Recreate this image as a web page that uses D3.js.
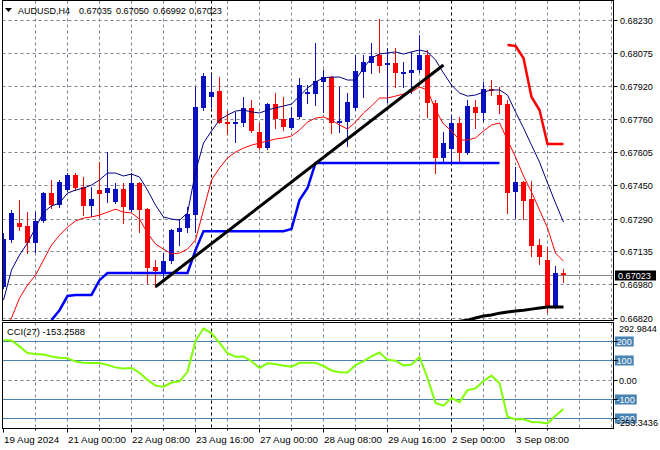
<!DOCTYPE html>
<html><head><meta charset="utf-8">
<script src="https://cdn.jsdelivr.net/npm/d3@7"></script>
<style>body{margin:0;background:#fff}svg{display:block}text{font-family:"Liberation Sans",Arial,sans-serif}</style>
</head><body><svg id="c" width="660" height="450"></svg>
<script>
// ---- data (AUDUSD H4) ----
const openP  = [0.66968,0.67189,0.67271,0.67255,0.67176,0.67279,0.67411,0.67354,0.67425,0.67496,0.67440,0.67350,0.67425,0.67411,0.67370,0.67430,0.67331,0.67459,0.67337,0.67061,0.67034,0.67089,0.67228,0.67246,0.67307,0.67814,0.67866,0.67895,0.67749,0.67738,0.67744,0.67814,0.67701,0.67623,0.67832,0.67760,0.67718,0.67770,0.67885,0.67880,0.67938,0.67959,0.67744,0.67749,0.67812,0.67985,0.68025,0.68064,0.68016,0.68025,0.67973,0.67981,0.67993,0.68064,0.67836,0.67575,0.67618,0.67741,0.67602,0.67817,0.67791,0.67902,0.67875,0.67832,0.67415,0.67465,0.67383,0.67165,0.67094,0.66873,0.67035];
const highP  = [0.67223,0.67331,0.67378,0.67321,0.67321,0.67416,0.67473,0.67473,0.67506,0.67506,0.67487,0.67440,0.67558,0.67605,0.67459,0.67459,0.67506,0.67463,0.67340,0.67094,0.67127,0.67241,0.67288,0.67345,0.67913,0.67981,0.67973,0.67962,0.67801,0.67796,0.67867,0.67851,0.67744,0.67837,0.67883,0.67867,0.67820,0.67954,0.67922,0.68120,0.67993,0.67965,0.67914,0.67883,0.68064,0.68064,0.68121,0.68235,0.68098,0.68098,0.68031,0.68080,0.68159,0.68088,0.67851,0.67701,0.67780,0.67770,0.67851,0.67851,0.67938,0.67946,0.67914,0.67851,0.67533,0.67468,0.67468,0.67194,0.67154,0.67066,0.67050];
const lowP   = [0.66960,0.67179,0.67236,0.67127,0.67132,0.67274,0.67340,0.67345,0.67421,0.67425,0.67307,0.67302,0.67298,0.67369,0.67364,0.67269,0.67326,0.67227,0.66987,0.66968,0.67014,0.67080,0.67165,0.67227,0.67227,0.67804,0.67820,0.67741,0.67690,0.67654,0.67728,0.67701,0.67619,0.67619,0.67718,0.67709,0.67712,0.67766,0.67836,0.67828,0.67796,0.67697,0.67700,0.67634,0.67804,0.67867,0.67979,0.67985,0.67843,0.67914,0.67914,0.67883,0.67984,0.67770,0.67507,0.67552,0.67553,0.67559,0.67598,0.67718,0.67753,0.67875,0.67791,0.67315,0.67291,0.67287,0.67115,0.67074,0.66849,0.66868,0.66992];
const closeP = [0.67194,0.67317,0.67252,0.67175,0.67279,0.67411,0.67354,0.67463,0.67496,0.67435,0.67351,0.67383,0.67407,0.67435,0.67430,0.67346,0.67459,0.67331,0.67058,0.67043,0.67089,0.67236,0.67246,0.67312,0.67818,0.67965,0.67889,0.67744,0.67738,0.67749,0.67814,0.67706,0.67623,0.67832,0.67760,0.67722,0.67765,0.67922,0.67889,0.67943,0.67959,0.67744,0.67753,0.67843,0.67989,0.68033,0.68061,0.68012,0.68025,0.67978,0.67985,0.67993,0.68064,0.67836,0.67575,0.67647,0.67741,0.67602,0.67823,0.67791,0.67902,0.67894,0.67828,0.67413,0.67465,0.67375,0.67162,0.67110,0.66873,0.67031,0.67023];

const upperLine = [0.66905,0.67047,0.67118,0.67175,0.67246,0.67321,0.67350,0.67364,0.67411,0.67425,0.67435,0.67449,0.67473,0.67506,0.67506,0.67492,0.67501,0.67487,0.67425,0.67354,0.67298,0.67288,0.67283,0.67317,0.67511,0.67648,0.67705,0.67757,0.67780,0.67799,0.67804,0.67795,0.67790,0.67804,0.67814,0.67823,0.67832,0.67870,0.67908,0.67937,0.67956,0.67960,0.67960,0.67946,0.67946,0.68003,0.68050,0.68069,0.68074,0.68079,0.68069,0.68079,0.68088,0.68079,0.68041,0.67979,0.67922,0.67885,0.67870,0.67875,0.67889,0.67899,0.67899,0.67875,0.67795,0.67719,0.67638,0.67558,0.67459,0.67364,0.67274];
const lowerLine = [0.66739,0.66820,0.66914,0.66976,0.67023,0.67094,0.67165,0.67212,0.67250,0.67279,0.67293,0.67298,0.67307,0.67321,0.67335,0.67321,0.67317,0.67288,0.67222,0.67170,0.67146,0.67123,0.67127,0.67146,0.67189,0.67331,0.67473,0.67530,0.67577,0.67605,0.67624,0.67638,0.67648,0.67657,0.67667,0.67672,0.67681,0.67709,0.67747,0.67766,0.67771,0.67757,0.67733,0.67714,0.67747,0.67790,0.67823,0.67861,0.67861,0.67870,0.67880,0.67889,0.67913,0.67899,0.67804,0.67738,0.67705,0.67662,0.67662,0.67672,0.67705,0.67733,0.67743,0.67662,0.67582,0.67492,0.67416,0.67331,0.67246,0.67127,0.67089];
const stopBlue = [null,null,null,null,null,null,0.66810,0.66857,0.66924,0.66929,0.66929,0.66929,0.66999,0.67033,0.67033,0.67033,0.67033,0.67033,0.67033,0.67033,0.67033,0.67033,0.67033,0.67033,0.67141,0.67231,0.67231,0.67231,0.67231,0.67231,0.67231,0.67231,0.67231,0.67231,0.67231,0.67231,0.67241,0.67378,0.67435,0.67553,0.67553,0.67553,0.67553,0.67553,0.67553,0.67553,0.67553,0.67553,0.67553,0.67553,0.67553,0.67553,0.67553,0.67553,0.67553,0.67553,0.67553,0.67553,0.67553,0.67553,0.67553,0.67553,0.67553,null,null,null,null,null,null,null,null];
const stopRed = [null,null,null,null,null,null,null,null,null,null,null,null,null,null,null,null,null,null,null,null,null,null,null,null,null,null,null,null,null,null,null,null,null,null,null,null,null,null,null,null,null,null,null,null,null,null,null,null,null,null,null,null,null,null,null,null,null,null,null,null,null,null,null,0.68112,0.68107,0.68050,0.67866,0.67804,0.67643,0.67643,0.67643];
const floorBlack = [null,null,null,null,null,null,null,null,null,null,null,null,null,null,null,null,null,null,null,null,null,null,null,null,null,null,null,null,null,null,null,null,null,null,null,null,null,null,null,null,null,null,null,null,null,null,null,null,null,null,null,null,null,null,null,null,null,0.66805,0.66810,0.66820,0.66829,0.66834,0.66843,0.66848,0.66853,0.66857,0.66862,0.66867,0.66872,0.66872,0.66872];
const trendIdx = [19, 55];
const trendPrice = [0.66968, 0.68017];
const cciValues = [205,203,172,138,133,130,120,113,111,93,87,86,86,76,63,57,60,35,-2,-32,-37,-16,-10,40,200,266,240,190,137,118,120,95,60,84,80,72,67,87,87,87,70,47,38,36,75,95,120,140,102,98,73,78,117,8,-122,-136,-96,-118,-55,-46,-8,20,-20,-193,-207,-207,-221,-222,-228,-188,-153.2588];
const priceTicks = [0.68230,0.68075,0.67920,0.67760,0.67605,0.67450,0.67290,0.67135,0.66980,0.66820];
const priceTickLabels = ["0.68230","0.68075","0.67920","0.67760","0.67605","0.67450","0.67290","0.67135","0.66980","0.66820"];
const timeTickIdx = [0,8,16,24,32,40,48,56,64];
const timeTickLabels = ["19 Aug 2024","21 Aug 00:00","22 Aug 08:00","23 Aug 16:00","27 Aug 00:00","28 Aug 08:00","29 Aug 16:00","2 Sep 00:00","3 Sep 08:00"];
const weekSepIdx = [26, 56];
const cciLevels = [200, 100, -100, -200];
const lastPrice = 0.67023;
const titleParts = ["AUDUSD,H4", "0.67035", "0.67050", "0.66992", "0.67023"];
const cciTitle = "CCI(27) -153.2588";
const cciMax = 292.9844, cciMin = -253.3436;

// ---- layout ----
const L = 2.5, R = 613.5, mT = 0.5, mB = 320.5, cT = 322.5, cB = 428.5;
const svg = d3.select("#c");
const x = d3.scaleLinear().domain([0, 70]).range([3.5, 563.5]);
const y = d3.scaleLinear().domain([0.66820, 0.68230]).range([318, 20]);
const yc = d3.scaleLinear().domain([-200, 200]).range([418, 341]);
const crisp = v => Math.round(v) + 0.5;

// font size so that sample string has the given pixel width
function fitSize(sample, width) {
  const t = svg.append("text").attr("font-size", 10).text(sample);
  const w = t.node().getComputedTextLength();
  t.remove();
  return 10 * width / w;
}
const fsPrice = fitSize("0.68230", 33);
const fsTime = fitSize("21 Aug 00:00", 58);
const fsSym = fitSize("AUDUSD,H4", 52);
const fsCciT = fitSize(cciTitle, 78);
const fsCciAx = fitSize("292.9844", 38);

const defs = svg.append("defs");
defs.append("clipPath").attr("id","cm").append("rect").attr("x",L).attr("y",mT).attr("width",R-L).attr("height",mB-mT);
defs.append("clipPath").attr("id","cc").append("rect").attr("x",L).attr("y",cT).attr("width",R-L).attr("height",cB-cT);

const gridColor = "#7b8592";
const gM = svg.append("g").attr("clip-path","url(#cm)");
const gC = svg.append("g").attr("clip-path","url(#cc)");

// vertical grid
const vIdx = d3.range(4, 80, 4);
[gM, gC].forEach((g, k) => {
  const top = k ? cT : mT, bot = k ? cB : mB;
  g.selectAll("line.vg").data(vIdx.filter(d => !weekSepIdx.includes(d))).join("line").attr("class","vg")
    .attr("x1", d => crisp(x(d) - 0.5)).attr("x2", d => crisp(x(d) - 0.5))
    .attr("y1", top).attr("y2", bot)
    .attr("stroke", gridColor).attr("stroke-dasharray","3,3");
  g.selectAll("line.ws").data(weekSepIdx).join("line").attr("class","ws")
    .attr("x1", d => crisp(x(d) - 0.5)).attr("x2", d => crisp(x(d) - 0.5))
    .attr("y1", top).attr("y2", bot)
    .attr("stroke", "#000").attr("stroke-dasharray","3,3");
});

// horizontal grid main
gM.selectAll("line.hg").data(priceTicks).join("line").attr("class","hg")
  .attr("x1", L).attr("x2", R)
  .attr("y1", d => crisp(y(d))).attr("y2", d => crisp(y(d)))
  .attr("stroke", gridColor).attr("stroke-dasharray","3,3");

// last price line
gM.append("line").attr("x1",L).attr("x2",R)
  .attr("y1",crisp(y(lastPrice))).attr("y2",crisp(y(lastPrice)))
  .attr("stroke","#8a8a8a");

// candles
const bullC = "#0a10c0", bearC = "#ff0000";
const cand = d3.range(openP.length).map(i => ({i, o:openP[i], h:highP[i], l:lowP[i], c:closeP[i]}));
const cg = gM.append("g");
cg.selectAll("line.wick").data(cand).join("line")
  .attr("x1", d => x(d.i)).attr("x2", d => x(d.i))
  .attr("y1", d => Math.round(y(d.h))).attr("y2", d => Math.round(y(d.l)) + 1)
  .attr("stroke", d => d.c >= d.o ? bullC : bearC).attr("stroke-width", 1);
cg.selectAll("rect.body").data(cand).join("rect")
  .attr("x", d => x(d.i) - 2.5).attr("width", 5)
  .attr("y", d => Math.round(y(Math.max(d.o, d.c))))
  .attr("height", d => Math.max(2, Math.round(y(Math.min(d.o, d.c))) - Math.round(y(Math.max(d.o, d.c)))))
  .attr("fill", d => d.c >= d.o ? bullC : bearC);

// indicator lines
const ln = d3.line().defined(d => d != null).x((d, i) => x(i)).y(d => y(d));
gM.append("path").attr("d", ln(upperLine)).attr("fill","none").attr("stroke","#000080").attr("stroke-width",1);
gM.append("path").attr("d", ln(lowerLine)).attr("fill","none").attr("stroke","#ff0000").attr("stroke-width",1);
gM.append("path").attr("d", ln(stopBlue)).attr("fill","none").attr("stroke","#0000ff").attr("stroke-width",2.5);
gM.append("path").attr("d", ln(stopRed)).attr("fill","none").attr("stroke","#ff0000").attr("stroke-width",2.5);
gM.append("path").attr("d", ln(floorBlack)).attr("fill","none").attr("stroke","#000").attr("stroke-width",3);
gM.append("line").attr("x1", x(trendIdx[0])).attr("y1", y(trendPrice[0]))
  .attr("x2", x(trendIdx[1])).attr("y2", y(trendPrice[1]))
  .attr("stroke","#000").attr("stroke-width",3);

// CCI panel
gC.selectAll("line.lv").data(cciLevels).join("line")
  .attr("x1", L).attr("x2", R).attr("y1", d => crisp(yc(d))).attr("y2", d => crisp(yc(d)))
  .attr("stroke", "#4682b4");
gC.append("line").attr("x1",L).attr("x2",R).attr("y1",crisp(yc(0))).attr("y2",crisp(yc(0)))
  .attr("stroke", gridColor).attr("stroke-dasharray","3,3");
const lc = d3.line().x((d, i) => x(i)).y(d => yc(d));
gC.append("path").attr("d", lc(cciValues)).attr("fill","none").attr("stroke","#7fff00").attr("stroke-width",2);

// frames
svg.append("rect").attr("x",L).attr("y",mT).attr("width",R-L).attr("height",mB-mT).attr("fill","none").attr("stroke","#000");
svg.append("rect").attr("x",L).attr("y",cT).attr("width",R-L).attr("height",cB-cT).attr("fill","none").attr("stroke","#000");

// right price axis
const ax = svg.append("g");
ax.selectAll("line.pt").data(priceTicks).join("line")
  .attr("x1", R).attr("x2", R + 4).attr("y1", d => crisp(y(d))).attr("y2", d => crisp(y(d))).attr("stroke","#000");
ax.selectAll("text.pl").data(priceTicks).join("text")
  .attr("x", 620).attr("y", d => Math.round(y(d)) + 4)
  .attr("font-size", fsPrice).attr("fill","#000").text((d, i) => priceTickLabels[i]);
// last price tag
const ly = Math.round(y(lastPrice));
ax.append("rect").attr("x", 615).attr("y", ly - 4.5).attr("width", 41).attr("height", 10).attr("fill","#000");
ax.append("text").attr("x", 618).attr("y", ly + 4).attr("font-size", fsPrice).attr("fill","#fff").text(lastPrice.toFixed(5));

// CCI axis
ax.append("text").attr("x", 619).attr("y", 332).attr("font-size", fsCciAx).attr("fill","#000").text(cciMax.toFixed(4));
cciLevels.forEach(v => {
  const yy = Math.round(yc(v));
  const t = ax.append("text").attr("x", 616.5).attr("y", yy + 4).attr("font-size", fsPrice).attr("fill","#fff").text(v);
  const w = t.node().getComputedTextLength() + 3.5;
  ax.append("line").attr("x1",R).attr("x2",R+4).attr("y1",yy+0.5).attr("y2",yy+0.5).attr("stroke","#000");
  ax.insert("rect", () => t.node()).attr("x", 615).attr("y", yy - 4.5).attr("width", w).attr("height", 10).attr("fill","#4682b4");
});
ax.append("line").attr("x1",R).attr("x2",R+4).attr("y1",crisp(yc(0))).attr("y2",crisp(yc(0))).attr("stroke","#000");
ax.append("text").attr("x", 619).attr("y", Math.round(yc(0)) + 4).attr("font-size", fsPrice).attr("fill","#000").text("0.00");
ax.append("text").attr("x", 617).attr("y", 426).attr("font-size", fsCciAx).attr("fill","#000").text(cciMin.toFixed(4));

// time axis
const minor = d3.range(4, 72, 8);
ax.selectAll("line.mt").data(minor).join("line")
  .attr("x1", d => crisp(x(d) - 0.5)).attr("x2", d => crisp(x(d) - 0.5)).attr("y1", cB).attr("y2", cB + 2).attr("stroke","#000");
ax.selectAll("line.tt").data(timeTickIdx).join("line")
  .attr("x1", d => crisp(x(d) - 0.5)).attr("x2", d => crisp(x(d) - 0.5)).attr("y1", cB).attr("y2", cB + 4).attr("stroke","#000");
ax.selectAll("text.tl").data(timeTickIdx).join("text")
  .attr("x", d => x(d) + 0.5).attr("y", 443).attr("font-size", fsTime).attr("fill","#000")
  .text((d, i) => timeTickLabels[i]);

// titles
svg.append("path").attr("d","M5,8 L12,8 L8.5,12 Z").attr("fill","#000");
const titleX = [18, 79, 116, 153, 189];
titleParts.forEach((s, i) => {
  svg.append("text").attr("x", titleX[i]).attr("y", 14)
    .attr("font-size", i === 0 ? fsSym : fsPrice).attr("fill","#000").text(s);
});
svg.append("text").attr("x", 7).attr("y", 335).attr("font-size", fsCciT).attr("fill","#000").text(cciTitle);
</script>
</body></html>
